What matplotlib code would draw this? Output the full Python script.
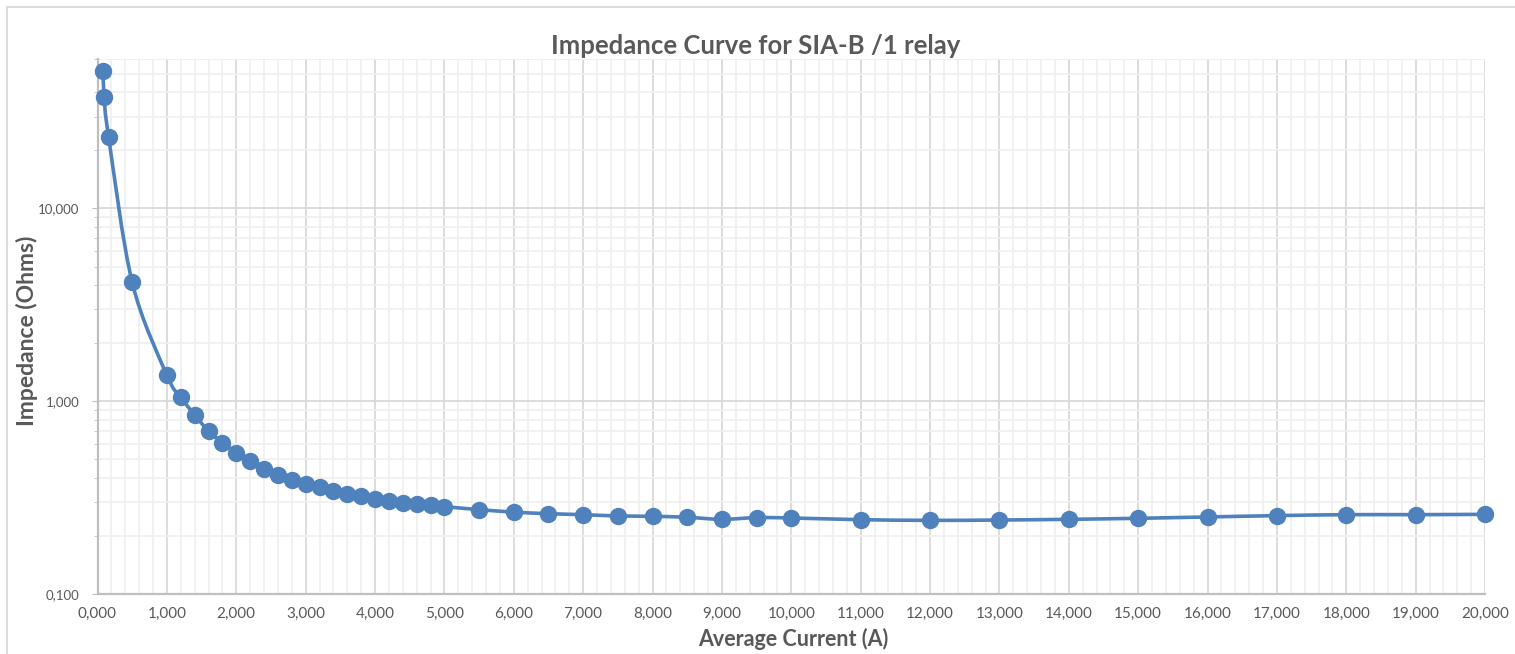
import numpy as np
import matplotlib
matplotlib.use("Agg")
import matplotlib.pyplot as plt
from matplotlib.path import Path
from matplotlib.patches import PathPatch, Rectangle
from matplotlib.ticker import FuncFormatter, LogLocator, MultipleLocator, NullFormatter

# measured relay impedance vs average current
current = [0.08, 0.095, 0.16, 0.5,
           1.0, 1.2, 1.4, 1.6, 1.8, 2.0, 2.2, 2.4, 2.6, 2.8, 3.0,
           3.2, 3.4, 3.6, 3.8, 4.0, 4.2, 4.4, 4.6, 4.8, 5.0,
           5.5, 6.0, 6.5, 7.0, 7.5, 8.0, 8.5, 9.0, 9.5, 10.0,
           11.0, 12.0, 13.0, 14.0, 15.0, 16.0, 17.0, 18.0, 19.0, 20.0]
impedance = [51.8, 38.1, 23.5, 4.14,
             1.365, 1.05, 0.85, 0.70, 0.61, 0.541, 0.488, 0.447, 0.416, 0.392, 0.373,
             0.357, 0.342, 0.331, 0.321, 0.311, 0.303, 0.298, 0.293, 0.289, 0.284,
             0.274, 0.266, 0.261, 0.258, 0.254, 0.253, 0.250, 0.244, 0.249, 0.248,
             0.243, 0.241, 0.242, 0.244, 0.247, 0.251, 0.255, 0.258, 0.258, 0.259]

BLUE = "#4F81BD"
TXT = "#595959"
FONT = "Lato"
W, H = 1515, 654


def smooth_path(x, y, sx=69.4, sy=192.5):
    """Excel-style smoothed line: cubic Bezier segments built in (x, log y) pixel space."""
    P = np.column_stack([np.asarray(x) * sx, np.log10(y) * sy])
    n = len(P)
    verts = [P[0]]
    codes = [Path.MOVETO]
    for i in range(n - 1):
        p0 = P[max(i - 1, 0)]
        p1, p2 = P[i], P[i + 1]
        p3 = P[min(i + 2, n - 1)]
        c1 = p1 + (p2 - p0) / 6.0
        c2 = p2 - (p3 - p1) / 6.0
        verts += [c1, c2, p2]
        codes += [Path.CURVE4] * 3
    V = np.array(verts)
    V[:, 0] /= sx
    V[:, 1] = 10 ** (V[:, 1] / sy)
    return Path(V, codes)


fig = plt.figure(figsize=(W / 100, H / 100), dpi=100)
ax = fig.add_axes([97.5 / W, 1 - 594 / H, (1485 - 97.5) / W, (594 - 58.5) / H])

# outer chart frame
fig.patches.append(Rectangle((7 / W, -0.1), 1.2, 1 - 7 / H + 0.1, transform=fig.transFigure,
                             fill=False, edgecolor="#D9D9D9", lw=1.3))

ax.set_yscale("log")
ax.set_xlim(0, 20)
ax.set_ylim(0.1, 60)

ax.xaxis.set_major_locator(MultipleLocator(1))
ax.xaxis.set_minor_locator(MultipleLocator(0.2))
ax.yaxis.set_major_locator(LogLocator(base=10, numticks=10))
ax.yaxis.set_minor_locator(LogLocator(base=10, subs=np.arange(2, 10), numticks=20))
ax.yaxis.set_minor_formatter(NullFormatter())
fmt = FuncFormatter(lambda v, _: f"{v:.3f}".replace(".", ","))
ax.xaxis.set_major_formatter(fmt)
ax.yaxis.set_major_formatter(fmt)

ax.grid(which="major", color="#D9D9D9", lw=1.3)
ax.grid(which="minor", color="#F0F0F0", lw=1.3)
ax.set_axisbelow(True)

for s in ("top", "right"):
    ax.spines[s].set_visible(False)
for s in ("left", "bottom"):
    ax.spines[s].set_color("#BFBFBF")
    ax.spines[s].set_linewidth(1.6)

ax.tick_params(axis="x", which="both", length=0, pad=9, labelsize=11, labelcolor=TXT)
ax.tick_params(axis="y", which="major", length=4, color="#BFBFBF", pad=9, labelsize=9.5,
               labelcolor=TXT)
ax.tick_params(axis="y", which="minor", length=3, color="#BFBFBF")
for lab in ax.get_xticklabels() + ax.get_yticklabels():
    lab.set_fontfamily(FONT)

ax.add_patch(PathPatch(smooth_path(current, impedance), fill=False, edgecolor=BLUE,
                       lw=2.6, capstyle="round", joinstyle="round", zorder=3))
ax.plot(current, impedance, "o", color=BLUE, ms=11.5, zorder=4, clip_on=False)

fig.text(0.4985, 1 - 46 / H, "Impedance Curve for SIA-B /1 relay", ha="center", va="center",
         fontsize=18.5, fontweight="bold", color=TXT, family=FONT)
fig.text(793 / W, 1 - 639 / H, "Average Current (A)", ha="center", va="center",
         fontsize=15.5, fontweight="bold", color=TXT, family=FONT)
fig.text(27 / W, 1 - 331 / H, "Impedance (Ohms)", ha="center", va="center", rotation=90,
         fontsize=16.5, fontweight="bold", color=TXT, family=FONT)

fig.savefig("out.png", dpi=100)
